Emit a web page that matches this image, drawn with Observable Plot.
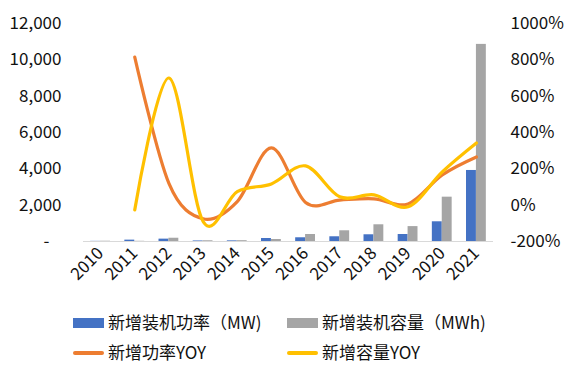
<!DOCTYPE html>
<html>
<head>
<meta charset="utf-8">
<script src="https://cdn.jsdelivr.net/npm/d3@7"></script>
<script src="https://cdn.jsdelivr.net/npm/@observablehq/plot@0.6"></script>
<style>
  html, body { margin: 0; padding: 0; background: #fff; }
  #wrap { position: relative; width: 573px; height: 382px; font-family: "Noto Sans CJK SC", "Noto Sans", sans-serif; color: #111; }
  .lg { position: absolute; font-size: 17px; line-height: 20px; white-space: nowrap; }
  .sw { position: absolute; }
</style>
</head>
<body>
<div id="wrap"></div>
<script>
const years = [2010, 2011, 2012, 2013, 2014, 2015, 2016, 2017, 2018, 2019, 2020, 2021];
const powerMW = [8, 75, 130, 30, 35, 165, 205, 260, 370, 385, 1085, 3910];
const capacityMWh = [15, 11, 180, 40, 45, 110, 385, 590, 920, 820, 2440, 10850];
const powerYOY = [null, 815, 120, -75, 20, 315, 15, 28, 35, 7, 166, 265];
const capacityYOY = [null, -26, 700, -90, 75, 117, 216, 46, 57, -9, 183, 342];
const leftTicks = [0, 2000, 4000, 6000, 8000, 10000, 12000];
const rightTicks = [-200, 0, 200, 400, 600, 800, 1000];
const seriesNames = ["新增装机功率（MW)", "新增装机容量（MWh)", "新增功率YOY", "新增容量YOY"];
const colors = ["#4472C4", "#A5A5A5", "#ED7D31", "#FFC000"];

// map percent (right axis) onto the left axis domain
const pctToLeft = p => (p + 200) * 10;

const bars = years.map((y, i) => ({year: y, power: powerMW[i], cap: capacityMWh[i]}));
const pLine = years.map((y, i) => ({year: y, v: powerYOY[i]})).filter(d => d.v != null);
const cLine = years.map((y, i) => ({year: y, v: capacityYOY[i]})).filter(d => d.v != null);

const bw = 0.29;
const chart = Plot.plot({
  width: 573,
  height: 300,
  marginTop: 23,
  marginBottom: 59,
  marginLeft: 83,
  marginRight: 80,
  style: {fontFamily: '"Noto Sans CJK SC", "Noto Sans", sans-serif', fontSize: "17px", color: "#111", background: "#fff"},
  x: {domain: [2009.5, 2021.5]},
  y: {domain: [0, 12000]},
  marks: [
    Plot.rectY(bars, {x1: d => d.year - bw, x2: d => d.year, y: "power", fill: colors[0], insetLeft: 0, insetRight: 0}),
    Plot.rectY(bars, {x1: d => d.year, x2: d => d.year + bw, y: "cap", fill: colors[1], insetLeft: 0, insetRight: 0}),
    Plot.ruleY([0], {stroke: "#D9D9D9", strokeWidth: 1.2}),
    Plot.line(pLine, {x: "year", y: d => pctToLeft(d.v), stroke: colors[2], strokeWidth: 3.2, curve: "cardinal"}),
    Plot.line(cLine, {x: "year", y: d => pctToLeft(d.v), stroke: colors[3], strokeWidth: 3.2, curve: "cardinal"}),
    Plot.axisY({anchor: "left", ticks: leftTicks, tickSize: 0, tickPadding: 22, label: null,
      tickFormat: d => d === 0 ? "-" : d3.format(",")(d)}),
    Plot.axisY({anchor: "right", ticks: rightTicks.map(pctToLeft), tickSize: 0, tickPadding: 17, label: null,
      tickFormat: d => (d / 10 - 200) + "%"}),
    Plot.axisX({ticks: years, tickFormat: d => String(d), tickRotate: -45, tickSize: 0, tickPadding: 9, label: null})
  ]
});

d3.select(chart).selectAll('g[aria-label="y-axis tick label"] text')
  .filter(function() { return this.textContent === "-"; })
  .attr("dx", -12);

const wrap = document.getElementById("wrap");
wrap.appendChild(chart);

const legend = [
  {name: seriesNames[0], color: colors[0], type: "bar", x: 73, y: 323},
  {name: seriesNames[1], color: colors[1], type: "bar", x: 287, y: 323},
  {name: seriesNames[2], color: colors[2], type: "line", x: 73, y: 353},
  {name: seriesNames[3], color: colors[3], type: "line", x: 287, y: 353}
];
for (const it of legend) {
  const sw = document.createElement("div");
  sw.className = "sw";
  sw.style.left = it.x + "px";
  sw.style.width = "31px";
  sw.style.background = it.color;
  if (it.type === "bar") { sw.style.top = (it.y - 5) + "px"; sw.style.height = "10px"; }
  else { sw.style.top = (it.y - 2) + "px"; sw.style.height = "4px"; sw.style.borderRadius = "2px"; }
  wrap.appendChild(sw);
  const t = document.createElement("div");
  t.className = "lg";
  t.textContent = it.name;
  t.style.left = (it.x + 35) + "px";
  t.style.top = (it.y - 11) + "px";
  wrap.appendChild(t);
}
</script>
</body>
</html>
